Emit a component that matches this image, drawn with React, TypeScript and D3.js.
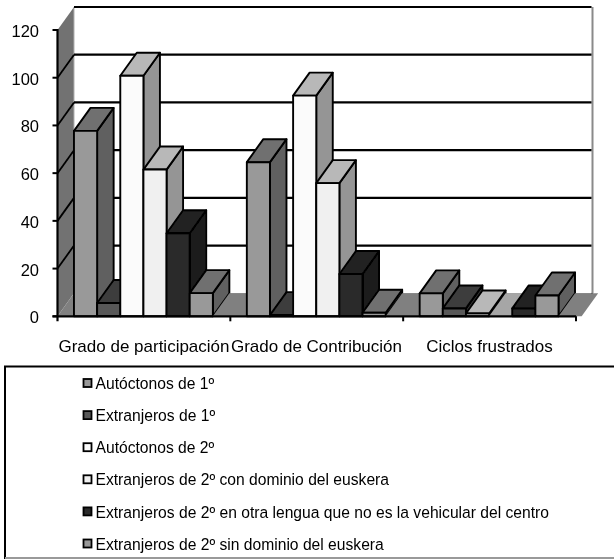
import React from "react";
import * as d3 from "d3";

const categories = ["Grado de participación", "Grado de Contribución", "Ciclos frustrados"];
const seriesNames = [
  "Autóctonos de 1º",
  "Extranjeros de 1º",
  "Autóctonos de 2º",
  "Extranjeros de 2º con dominio del euskera",
  "Extranjeros de 2º en otra lengua que no es la vehicular del centro",
  "Extranjeros de 2º sin dominio del euskera",
];
const autoctonos1 = [77.7, 64.6, 9.6];
const extranjeros1 = [5.6, 0.5, 3.3];
const autoctonos2 = [100.8, 92.5, 1.2];
const extranjeros2Dominio = [61.5, 55.8, 0];
const extranjeros2Otra = [34.8, 17.7, 3.3];
const extranjeros2Sin = [9.7, 1.5, 8.7];
const extranjerosExtra = [0, 0, 0];
const allSeries = [autoctonos1, extranjeros1, autoctonos2, extranjeros2Dominio, extranjeros2Otra, extranjeros2Sin, extranjerosExtra];
const fronts = ["#999999", "#595959", "#fbfbfb", "#f0f0f0", "#2a2a2a", "#999999", "#808080"];
const tops = ["#707070", "#3c3c3c", "#b8b8b8", "#b8b8b8", "#222222", "#707070", "#808080"];
const sides = ["#606060", "#333333", "#959595", "#959595", "#1b1b1b", "#606060", "#808080"];
const swatchFill = ["#999999", "#595959", "#fbfbfb", "#f0f0f0", "#2a2a2a", "#999999"];
const yTicks = [0, 20, 40, 60, 80, 100, 120];

const FONT = "'Liberation Sans', Arial, sans-serif";
const DX = 16.5;
const DY = -23;
const X0 = 57.5;
const X1 = 576;
const y = d3.scaleLinear().domain([0, 120]).range([316.3, 30]);
const group = d3.scaleBand<number>().domain([0, 1, 2]).range([X0, X1]).paddingInner(0).paddingOuter(0);
const groupW = group.bandwidth();
const bar = d3.scaleBand<number>().domain(d3.range(7)).range([DX, DX + 162]);
const pts = (p: number[][]) => p.map((q) => q.join(",")).join(" ");

export default function App() {
  const y0 = y(0);
  return (
    <svg width={614} height={559} style={{ position: "absolute", left: 0, top: 0, background: "#fff" }} fontFamily={FONT}>
      <defs>
        <filter id="soft" x="-2%" y="-2%" width="104%" height="104%">
          <feGaussianBlur stdDeviation="0.35" />
        </filter>
      </defs>
      <g filter="url(#soft)">
        {/* walls */}
        <polygon points={pts([[X0, y(120)], [X0 + DX, y(120) + DY], [X0 + DX, y0 + DY], [X0, y0]])} fill="#727272" />
        <polygon points={pts([[X0, y0], [X1, y0], [X1 + DX, y0 + DY], [X0 + DX, y0 + DY]])} fill="#808080" />
        <line x1={X1 + DX} x2={X1 + DX} y1={y(120) + DY} y2={y0 + DY} stroke="#8a8a8a" strokeWidth={2} />
        <line x1={X0 + DX} x2={X0 + DX} y1={y(120) + DY} y2={y0 + DY} stroke="#b0b0b0" strokeWidth={1} />
        {yTicks.filter((t) => t > 0).map((t) => (
          <g key={t}>
            <line x1={X0 + DX} x2={X1 + DX - 1} y1={y(t) + DY} y2={y(t) + DY} stroke="#000" strokeWidth={2.2} />
            {t < 120 && <line x1={X0} x2={X0 + DX} y1={y(t)} y2={y(t) + DY} stroke="#000" strokeWidth={1.8} />}
          </g>
        ))}
        <line x1={X1} x2={X1 + DX} y1={y0} y2={y0 + DY} stroke="#000" strokeWidth={1.8} />
        {/* bars */}
        {categories.map((_, c) =>
          allSeries.map((vals, s) => {
            const v = vals[c];
            const x = group(c)! + bar(s)!;
            const w = bar.bandwidth();
            const yt = y(v);
            const stroke = v > 0 ? "#000" : "none";
            return (
              <g key={c + "-" + s} stroke={stroke} strokeWidth={1.9} strokeLinejoin="round">
                <polygon points={pts([[x + w, y0], [x + w + DX, y0 + DY], [x + w + DX, yt + DY], [x + w, yt]])} fill={sides[s]} />
                <polygon points={pts([[x, yt], [x + DX, yt + DY], [x + w + DX, yt + DY], [x + w, yt]])} fill={v > 0 || s === 6 ? tops[s] : "#a6a6a6"} />
                {v > 0 && <rect x={x} y={yt} width={w} height={y0 - yt} fill={fronts[s]} />}
              </g>
            );
          })
        )}
        {/* axes */}
        <line x1={X0} x2={X0} y1={y(120) - 1} y2={y0 + 5} stroke="#000" strokeWidth={2.2} />
        <line x1={X0 - 5} x2={X1} y1={y0} y2={y0} stroke="#000" strokeWidth={2.2} />
        {yTicks.map((t) => (
          <g key={t}>
            <line x1={X0 - 5} x2={X0} y1={y(t)} y2={y(t)} stroke="#000" strokeWidth={2} />
            <text x={39} y={y(t) + 1} dy="0.36em" textAnchor="end" fontSize={16.5} fill="#000">{t}</text>
          </g>
        ))}
        {[0, 1, 2].map((c) => (
          <line key={c} x1={group(c)! + groupW} x2={group(c)! + groupW} y1={y0} y2={y0 + 5} stroke="#000" strokeWidth={2} />
        ))}
        {categories.map((c, i) => (
          <text key={c} x={[144, 316.5, 489.5][i]} y={345.5} dy="0.36em" textAnchor="middle" fontSize={17} fill="#000">{c}</text>
        ))}
        {/* legend */}
        <rect x={5} y={366.5} width={612} height={191.5} fill="#fff" stroke="#000" strokeWidth={2} />
        <line x1={5} x2={614} y1={558} y2={558} stroke="#999" strokeWidth={2} />
        {seriesNames.map((n, i) => {
          const ly = 383 + i * 32.1;
          return (
            <g key={n}>
              <rect x={83.5} y={ly - 4} width={8} height={8} fill={swatchFill[i]} stroke="#000" strokeWidth={1.8} />
              <text x={95.5} y={ly + 0.5} dy="0.36em" fontSize={15.65} fill="#000">{n}</text>
            </g>
          );
        })}
      </g>
    </svg>
  );
}
